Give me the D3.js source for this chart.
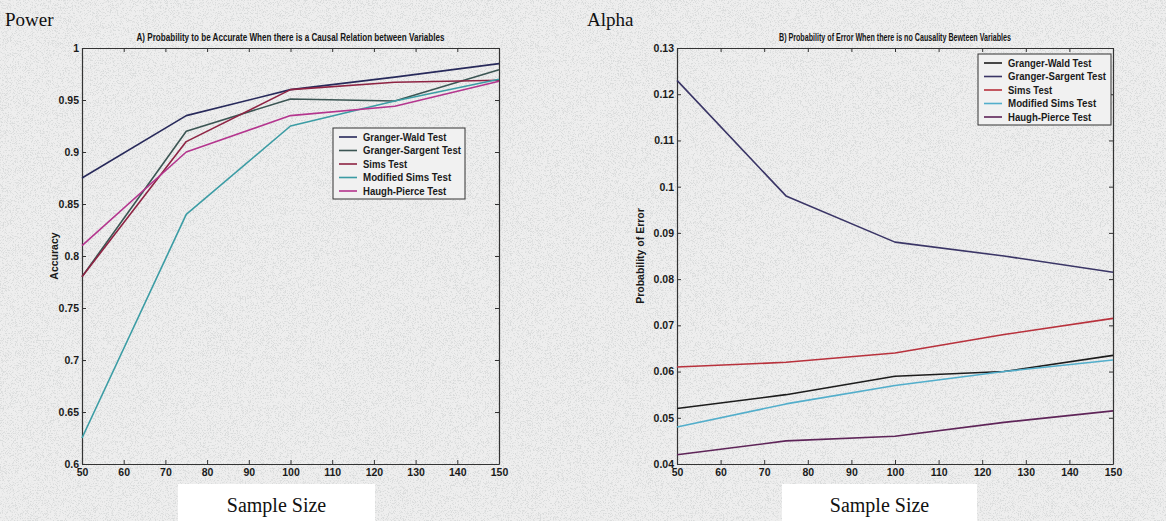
<!DOCTYPE html>
<html>
<head>
<meta charset="utf-8">
<script src="https://cdn.jsdelivr.net/npm/d3@7"></script>
<style>
  html, body { margin: 0; padding: 0; background: #fff; }
  svg { display: block; }
</style>
</head>
<body>
<svg id="chart" width="1166" height="521"></svg>
<script>
// Sample sizes used in the simulation
const sampleSizes = [50, 75, 100, 125, 150];

const testNames = ["Granger-Wald Test", "Granger-Sargent Test", "Sims Test", "Modified Sims Test", "Haugh-Pierce Test"];

// A) Accuracy when a causal relation exists
const powerGrangerWald     = [0.875, 0.935, 0.960, 0.972, 0.985];
const powerGrangerSargent  = [0.780, 0.920, 0.951, 0.949, 0.979];
const powerSims            = [0.780, 0.910, 0.960, 0.967, 0.969];
const powerModifiedSims    = [0.625, 0.840, 0.925, 0.949, 0.970];
const powerHaughPierce     = [0.810, 0.900, 0.935, 0.944, 0.968];

// B) Error rate when there is no causality
const alphaGrangerWald     = [0.052, 0.055, 0.059, 0.060, 0.0635];
const alphaGrangerSargent  = [0.123, 0.098, 0.088, 0.085, 0.0815];
const alphaSims            = [0.061, 0.062, 0.064, 0.068, 0.0715];
const alphaModifiedSims    = [0.048, 0.053, 0.057, 0.060, 0.0625];
const alphaHaughPierce     = [0.042, 0.045, 0.046, 0.049, 0.0515];

const xTicks = [50, 60, 70, 80, 90, 100, 110, 120, 130, 140, 150];
const powerTicks = [0.6, 0.65, 0.7, 0.75, 0.8, 0.85, 0.9, 0.95, 1];
const powerTickLabels = ["0.6", "0.65", "0.7", "0.75", "0.8", "0.85", "0.9", "0.95", "1"];
const alphaTicks = [0.04, 0.05, 0.06, 0.07, 0.08, 0.09, 0.10, 0.11, 0.12, 0.13];
const alphaTickLabels = ["0.04", "0.05", "0.06", "0.07", "0.08", "0.09", "0.1", "0.11", "0.12", "0.13"];

const powerColors = ["#27295a", "#3b5553", "#8e2343", "#3b9ca4", "#b4358e"];
const alphaColors = ["#1c1c1c", "#3a3566", "#b8313c", "#52aecb", "#5e2458"];

const svg = d3.select("#chart");
const W = 1166, H = 521;

// fine grainy paper background
const defs = svg.append("defs");
const grain = defs.append("filter").attr("id", "grain")
  .attr("x", 0).attr("y", 0).attr("width", "100%").attr("height", "100%");
grain.append("feTurbulence").attr("type", "fractalNoise")
  .attr("baseFrequency", 1.4).attr("numOctaves", 1).attr("seed", 7).attr("result", "noise");
grain.append("feColorMatrix").attr("in", "noise").attr("type", "matrix")
  .attr("values", "0 0 0 0 0.55  0 0 0 0 0.57  0 0 0 0 0.57  0 0 0 -7 3.4")
  .attr("result", "dots");
grain.append("feComposite").attr("in", "dots").attr("in2", "SourceGraphic").attr("operator", "in");

svg.append("rect").attr("width", W).attr("height", H).attr("fill", "#eeeeee");
svg.append("rect").attr("width", W).attr("height", H).attr("fill", "#eeeeee")
  .attr("filter", "url(#grain)").attr("opacity", 0.45);

const tickFont = "'Liberation Sans', Arial, sans-serif";
const serifFont = "'Liberation Serif', 'Times New Roman', serif";

function panel(opts) {
  const { left, right, top, bottom, yDomain, yTicks, yLabels, series, colors,
          heading, title, titleLen, yTitle, legendBox, labelBox } = opts;

  const x = d3.scaleLinear().domain([50, 150]).range([left, right]);
  const y = d3.scaleLinear().domain(yDomain).range([bottom, top]);
  const g = svg.append("g");

  // white strip behind x-axis caption
  g.append("rect").attr("x", labelBox[0]).attr("y", labelBox[1])
    .attr("width", labelBox[2]).attr("height", labelBox[3]).attr("fill", "#fff");
  g.append("text").attr("x", labelBox[0] + labelBox[2] / 2).attr("y", labelBox[1] + 28)
    .attr("text-anchor", "middle").attr("font-family", serifFont).attr("font-size", 20)
    .attr("fill", "#111").text("Sample Size");

  g.append("text").attr("x", heading[1]).attr("y", 26)
    .attr("font-family", serifFont).attr("font-size", 19).attr("fill", "#111").text(heading[0]);

  g.append("text").attr("x", (left + right) / 2).attr("y", 41)
    .attr("text-anchor", "middle").attr("font-family", tickFont).attr("font-size", 10.5)
    .attr("font-weight", "bold").attr("fill", "#151515")
    .attr("textLength", titleLen).attr("lengthAdjust", "spacingAndGlyphs").text(title);

  // axes with inward ticks on every side
  const axStyle = sel => {
    sel.selectAll("path").attr("stroke", "#333").attr("stroke-width", 1.2);
    sel.selectAll("line").attr("stroke", "#333").attr("stroke-width", 1);
    sel.selectAll("text").attr("font-family", tickFont).attr("font-size", 10.5)
      .attr("font-weight", "bold").attr("fill", "#1a1a1a");
  };
  g.append("g").attr("transform", `translate(0,${bottom})`)
    .call(d3.axisBottom(x).tickValues(xTicks).tickFormat(d3.format("d"))
      .tickSizeInner(-4).tickSizeOuter(0).tickPadding(5)).call(axStyle);
  g.append("g").attr("transform", `translate(0,${top})`)
    .call(d3.axisTop(x).tickValues(xTicks).tickFormat("")
      .tickSizeInner(-4).tickSizeOuter(0)).call(axStyle);
  g.append("g").attr("transform", `translate(${left},0)`)
    .call(d3.axisLeft(y).tickValues(yTicks).tickFormat((d, i) => yLabels[i])
      .tickSizeInner(-4).tickSizeOuter(0).tickPadding(3)).call(axStyle);
  g.append("g").attr("transform", `translate(${right},0)`)
    .call(d3.axisRight(y).tickValues(yTicks).tickFormat("")
      .tickSizeInner(-4).tickSizeOuter(0)).call(axStyle);

  g.append("text").attr("transform", `translate(${yTitle[1]},${(top + bottom) / 2}) rotate(-90)`)
    .attr("text-anchor", "middle").attr("font-family", tickFont).attr("font-size", 10.5)
    .attr("font-weight", "bold").attr("fill", "#1a1a1a").text(yTitle[0]);

  const line = d3.line().x((d, i) => x(sampleSizes[i])).y(d => y(d));
  series.forEach((s, i) => {
    g.append("path").datum(s).attr("d", line).attr("fill", "none")
      .attr("stroke", colors[i]).attr("stroke-width", 1.6).attr("stroke-linejoin", "round");
  });

  // legend
  const [lx, ly, lw, lh] = legendBox;
  const lg = g.append("g");
  lg.append("rect").attr("x", lx).attr("y", ly).attr("width", lw).attr("height", lh)
    .attr("fill", "#f1f1f1").attr("stroke", "#333").attr("stroke-width", 1);
  testNames.forEach((name, i) => {
    const yy = ly + 9 + i * 13.5;
    lg.append("line").attr("x1", lx + 6).attr("x2", lx + 24).attr("y1", yy).attr("y2", yy)
      .attr("stroke", colors[i]).attr("stroke-width", 1.6);
    lg.append("text").attr("x", lx + 30).attr("y", yy + 3.8)
      .attr("font-family", tickFont).attr("font-size", 10.5).attr("font-weight", "bold")
      .attr("fill", "#1a1a1a").attr("textLength", name.length * 4.9)
      .attr("lengthAdjust", "spacingAndGlyphs").text(name);
  });
}

panel({
  left: 82, right: 499, top: 48, bottom: 464,
  yDomain: [0.6, 1], yTicks: powerTicks, yLabels: powerTickLabels,
  series: [powerGrangerWald, powerGrangerSargent, powerSims, powerModifiedSims, powerHaughPierce],
  colors: powerColors,
  heading: ["Power", 5],
  title: "A) Probability to be Accurate When there is a Causal Relation between Variables",
  titleLen: 308,
  yTitle: ["Accuracy", 58],
  legendBox: [333, 128, 132, 71],
  labelBox: [178, 484, 197, 37]
});

panel({
  left: 677, right: 1113, top: 48, bottom: 464,
  yDomain: [0.04, 0.13], yTicks: alphaTicks, yLabels: alphaTickLabels,
  series: [alphaGrangerWald, alphaGrangerSargent, alphaSims, alphaModifiedSims, alphaHaughPierce],
  colors: alphaColors,
  heading: ["Alpha", 587],
  title: "B) Probability of Error When there is no Causality Bewteen Variables",
  titleLen: 232,
  yTitle: ["Probability of Error", 644],
  legendBox: [978, 54, 133, 71],
  labelBox: [782, 484, 195, 37]
});
</script>
</body>
</html>
